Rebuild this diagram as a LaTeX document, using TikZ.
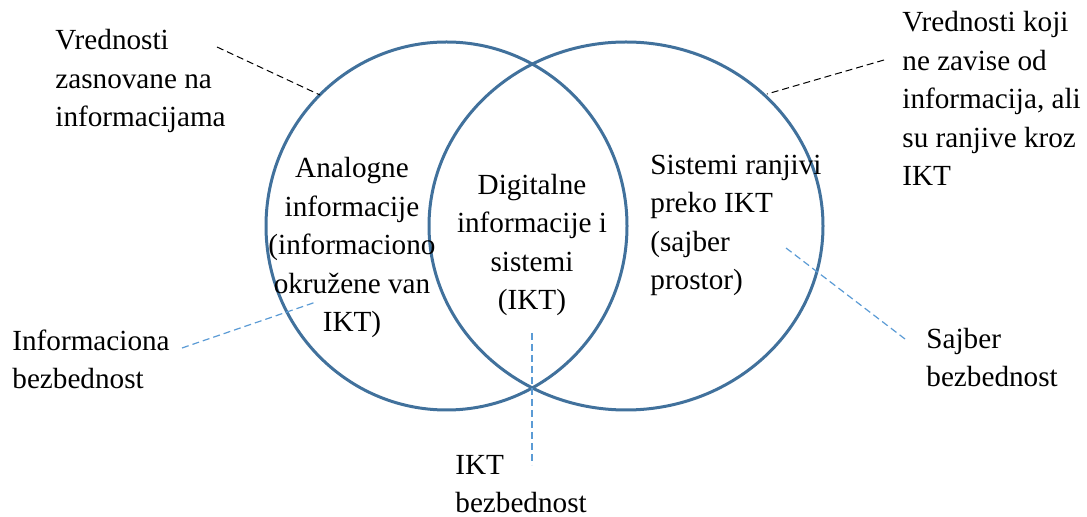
\documentclass[tikz,border=0pt]{standalone}
\usepackage{fontspec}
\setmainfont{Liberation Serif}
\usetikzlibrary{shapes.geometric}
\definecolor{ringblue}{HTML}{41719C}
\definecolor{cueblue}{HTML}{5B9BD5}
\begin{document}
\begin{tikzpicture}[x=0.5pt,y=-0.5pt,
  ring/.style={draw=ringblue,line width=1.5pt,ellipse,inner sep=0pt,outer sep=0pt},
  lbl/.style={inner sep=0pt,font=\fontsize{14.6}{19.3}\selectfont},
  darkcue/.style={draw=black,line width=0.5pt,dash pattern=on 3.5pt off 2pt},
  bluecue/.style={draw=cueblue,line width=0.6pt,dash pattern=on 3.5pt off 2pt}]
\useasboundingbox (0,0) rectangle (1087,517);

% the two overlapping sets
\node[ring,minimum width=180.5pt,minimum height=184pt] (leftset) at (446.5,226) {};
\node[ring,minimum width=197pt,minimum height=184pt] (rightset) at (626,226) {};

% texts inside the sets (anchored at the baseline of the last line)
\node[lbl,align=center,anchor=base] (analog) at (352,332)
  {Analogne\\informacije\\(informaciono\\okružene van\\IKT)};
\node[lbl,align=center,anchor=base] (digital) at (532,310)
  {Digitalne\\informacije i\\sistemi\\(IKT)};
\node[lbl,align=left,anchor=base west] (cyber) at (650,290)
  {Sistemi ranjivi\\preko IKT\\(sajber\\prostor)};

% outside labels
\node[lbl,align=left,anchor=base west] (infoval) at (55,127)
  {Vrednosti\\zasnovane na\\informacijama};
\node[lbl,align=left,anchor=base west] (otherval) at (902,186)
  {Vrednosti koji\\ne zavise od\\informacija, ali\\su ranjive kroz\\IKT};
\node[lbl,align=left,anchor=base west] (infosec) at (12,389)
  {Informaciona\\bezbednost};
\node[lbl,align=left,anchor=base west] (cybersec) at (926,387)
  {Sajber\\bezbednost};
\node[lbl,align=left,anchor=base west] (iktsec) at (455,513)
  {IKT\\bezbednost};

% leader lines
\coordinate (a1) at (217,47);  \coordinate (a2) at (320,95);
\coordinate (b1) at (884,60);  \coordinate (b2) at (767,94);
\coordinate (c1) at (182,348); \coordinate (c2) at (316,302);
\coordinate (d1) at (786,248); \coordinate (d2) at (905,339);
\coordinate (e1) at (532,333); \coordinate (e2) at (532,465);
\draw[darkcue] (a1) -- (a2);
\draw[darkcue] (b1) -- (b2);
\draw[bluecue] (c1) -- (c2);
\draw[bluecue] (d1) -- (d2);
\draw[bluecue] (e1) -- (e2);
\end{tikzpicture}
\end{document}
